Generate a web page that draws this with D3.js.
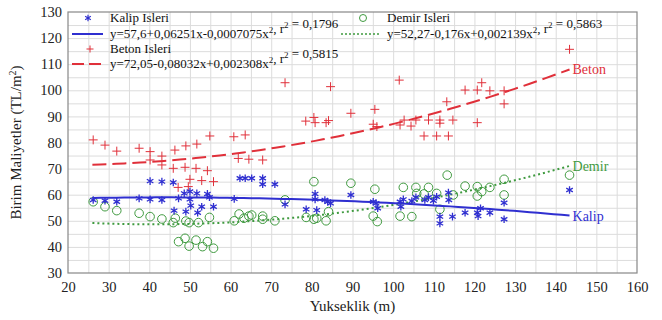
<!DOCTYPE html>
<html lang="tr">
<head>
<meta charset="utf-8">
<title>Birim Maliyetler</title>
<script src="https://d3js.org/d3.v7.min.js"></script>
<style type="text/css">
body { margin: 0; background: #fff; }
svg text { font-family: "Liberation Serif", "DejaVu Serif", serif !important; }
.grid line { stroke: #dcdcdc; stroke-width: 1; }
.grid path { display: none; }
.tick text { font-size: 14.5px; fill: #222; }
</style>
</head>
<body>
<div id="chart"></div>
<script type="text/javascript">
// Data
var kalipX = [26.2,29.1,32.0,37.5,40.2,40.2,43.1,43.1,45.9,46.1,47.2,48.6,49.0,50.0,50.0,50.2,51.7,51.9,52.9,54.3,54.8,55.8,60.9,62.3,63.6,65.2,67.9,67.9,70.9,73.4,78.6,80.8,80.8,81.2,83.2,83.9,84.6,89.6,95.1,95.8,96.2,101.7,101.9,102.5,104.6,105.6,107.8,108.7,109.9,110.7,111.5,111.5,113.6,113.7,114.6,117.7,120.7,120.9,121.5,123.8,127.3,127.3,143.4];
var kalipY = [58.0,57.7,57.3,58.6,65.2,58.2,65.0,58.0,64.7,53.9,58.6,60.5,53.5,61.2,58.2,55.8,60.5,53.1,55.4,60.3,59.0,55.4,58.4,66.3,66.3,66.3,66.3,64.0,64.0,56.3,54.4,60.3,58.2,54.1,58.0,57.3,56.7,59.9,57.3,56.7,54.8,57.3,55.4,58.2,57.6,59.0,58.0,59.0,57.7,59.2,51.6,49.0,60.8,58.0,51.6,53.1,53.1,51.8,54.8,53.1,56.9,50.6,61.8];

var betonX = [26.2,29.1,32.0,37.5,40.2,40.2,43.1,43.1,46.3,45.9,49.0,48.8,51.7,51.5,54.9,54.3,50.0,52.9,55.8,47.1,49.6,60.8,63.6,61.9,64.5,67.9,73.4,84.6,78.5,80.5,80.8,83.5,84.1,89.6,95.5,95.1,96.0,101.5,101.7,102.7,104.4,105.6,107.6,108.7,110.7,111.5,111.5,113.2,113.6,114.7,117.7,120.7,120.7,121.8,123.8,127.3,127.3,143.4];
var betonY = [81.0,79.0,76.7,77.8,76.5,73.3,74.8,71.4,77.1,70.1,78.7,70.5,79.4,70.1,82.5,69.2,65.9,65.4,65.0,62.8,63.1,82.2,82.9,73.9,73.6,73.3,102.9,101.4,88.2,89.6,87.6,87.6,88.4,91.2,92.7,87.0,86.1,103.9,86.7,88.6,86.3,88.6,82.5,88.6,82.5,88.6,87.4,95.6,82.5,88.6,100.1,100.1,87.6,102.9,99.8,99.8,94.8,115.7];

var demirX = [26.2,29.1,32.0,37.5,40.2,43.1,45.9,46.4,49.0,49.8,52.1,54.8,47.2,48.8,49.8,51.5,53.1,54.3,55.8,60.9,62.1,63.3,64.5,65.2,67.9,67.9,70.9,73.4,78.6,80.5,80.5,81.2,83.5,84.1,89.6,95.1,95.5,96.1,101.7,102.5,104.6,105.6,105.8,107.6,108.7,110.7,111.5,113.3,114.8,117.7,120.7,120.7,121.8,123.8,127.3,127.3,143.4];
var demirY = [57.3,55.4,53.9,52.9,51.6,50.7,49.3,51.0,49.9,49.3,49.3,51.3,42.0,43.3,40.3,42.6,40.1,42.0,39.5,50.0,52.6,51.0,51.8,52.2,51.8,50.6,50.0,58.0,51.3,65.0,50.6,51.0,50.0,53.5,64.4,51.8,62.1,49.7,51.8,62.8,51.6,62.8,60.5,60.3,62.8,60.5,54.4,67.5,59.9,63.3,63.1,59.5,61.2,62.8,65.9,59.9,67.5];

// regression coefficients (a + b x + c x^2) shown in the legend
var kalipFit = [57.6, 0.06251, -0.0007075];
var betonFit = [72.05, -0.08032, 0.002308];
var demirFit = [52.27, -0.176, 0.002139];
var fitRange = [26, 143.4];

var xTicks = [20,30,40,50,60,70,80,90,100,110,120,130,140,150,160];
var yTicks = [30,40,50,60,70,80,90,100,110,120,130];

var w = 662, h = 320;
var pLeft = 68, pRight = 637, pTop = 12, pBottom = 273;

var blue = "#2f2fd0", red = "#e0303a", green = "#3f9a3f";

var xScale = d3.scaleLinear().domain([20, 160]).range([pLeft, pRight]);
var yScale = d3.scaleLinear().domain([30, 130]).range([pBottom, pTop]);

var svg = d3.select("#chart").append("svg")
	.attr("width", w)
	.attr("height", h);

// grid every 5 units
svg.append("g")
	.attr("class", "grid")
	.attr("transform", "translate(0," + pBottom + ")")
	.call(d3.axisBottom(xScale).tickValues(d3.range(25, 160, 5)).tickSize(-(pBottom - pTop)).tickFormat(""));
svg.append("g")
	.attr("class", "grid")
	.attr("transform", "translate(" + pLeft + ",0)")
	.call(d3.axisLeft(yScale).tickValues(d3.range(35, 130, 5)).tickSize(-(pRight - pLeft)).tickFormat(""));

// frame
svg.append("rect")
	.attr("x", pLeft).attr("y", pTop)
	.attr("width", pRight - pLeft).attr("height", pBottom - pTop)
	.attr("fill", "none").attr("stroke", "#888").attr("stroke-width", 1.2);

// axes labels
var xAxis = svg.append("g")
	.attr("transform", "translate(0," + pBottom + ")")
	.call(d3.axisBottom(xScale).tickValues(xTicks).tickSize(0).tickPadding(9));
xAxis.select(".domain").remove();

var yAxis = svg.append("g")
	.attr("transform", "translate(" + pLeft + ",0)")
	.call(d3.axisLeft(yScale).tickValues(yTicks).tickSize(0).tickPadding(6));
yAxis.select(".domain").remove();

svg.append("text")
	.attr("x", (pLeft + pRight) / 2).attr("y", 311)
	.attr("text-anchor", "middle")
	.style("font-size", "15px")
	.attr("fill", "#222")
	.text("Yukseklik (m)");

var yt = svg.append("text")
	.attr("transform", "translate(21," + ((pTop + pBottom) / 2) + ") rotate(-90)")
	.attr("text-anchor", "middle")
	.style("font-size", "15px")
	.attr("fill", "#222");
yt.append("tspan").text("Birim Maliyetler (TL/m");
yt.append("tspan").attr("dy", -5).style("font-size", "10px").text("2");
yt.append("tspan").attr("dy", 5).text(")");

// fit curves
function fitPoints(c) {
	var pts = [];
	for (var i = 0; i <= 60; i++) {
		var xv = fitRange[0] + (fitRange[1] - fitRange[0]) * i / 60;
		pts.push([xv, c[0] + c[1] * xv + c[2] * xv * xv]);
	}
	return pts;
}
var line = d3.line().x(d => xScale(d[0])).y(d => yScale(d[1]));

svg.append("path").datum(fitPoints(betonFit)).attr("d", line)
	.attr("fill", "none").attr("stroke", red).attr("stroke-width", 2)
	.attr("stroke-dasharray", "14,6");
svg.append("path").datum(fitPoints(demirFit)).attr("d", line)
	.attr("fill", "none").attr("stroke", green).attr("stroke-width", 2)
	.attr("stroke-dasharray", "2,3");

// points
svg.append("g").selectAll("circle")
	.data(d3.zip(demirX, demirY))
	.enter().append("circle")
	.attr("cx", d => xScale(d[0])).attr("cy", d => yScale(d[1]))
	.attr("r", 4.3)
	.attr("fill", "none").attr("stroke", green).attr("stroke-width", 1);

svg.append("g").selectAll("path")
	.data(d3.zip(betonX, betonY))
	.enter().append("path")
	.attr("transform", d => "translate(" + xScale(d[0]) + "," + yScale(d[1]) + ")")
	.attr("d", d3.symbol(d3.symbolPlus, 28))
	.attr("fill", "none").attr("stroke", red).attr("stroke-width", 1);

svg.append("g").selectAll("path")
	.data(d3.zip(kalipX, kalipY))
	.enter().append("path")
	.attr("transform", d => "translate(" + xScale(d[0]) + "," + yScale(d[1]) + ")")
	.attr("d", d3.symbol(d3.symbolAsterisk, 40))
	.attr("fill", "none").attr("stroke", blue).attr("stroke-width", 1.3);

svg.append("path").datum(fitPoints(kalipFit)).attr("d", line)
	.attr("fill", "none").attr("stroke", blue).attr("stroke-width", 2);

// end labels
var endLabels = [["Beton", betonFit, red], ["Demir", demirFit, green], ["Kalip", kalipFit, blue]];
endLabels.forEach(function (e) {
	var xv = fitRange[1];
	var yv = e[1][0] + e[1][1] * xv + e[1][2] * xv * xv;
	svg.append("text")
		.attr("x", xScale(xv) + 3).attr("y", yScale(yv) + 5)
		.style("font-size", "14px")
		.attr("fill", e[2])
		.text(e[0]);
});

// legend
var legend = svg.append("g").style("font-size", "13px").attr("fill", "#111");
function eqText(g, x, y, parts) {
	var t = g.append("text").attr("x", x).attr("y", y);
	parts.forEach(function (p) {
		if (p[1]) {
			t.append("tspan").attr("dy", -5).style("font-size", "9px").text(p[0]);
			t.append("tspan").attr("dy", 5).text("");
		} else {
			t.append("tspan").text(p[0]);
		}
	});
}
var rows = [22, 38, 53, 68];

legend.append("path")
	.attr("transform", "translate(88," + (rows[0] - 4) + ")")
	.attr("d", d3.symbol(d3.symbolAsterisk, 30))
	.attr("fill", "none").attr("stroke", blue).attr("stroke-width", 1.2);
legend.append("text").attr("x", 110).attr("y", rows[0]).text("Kalip Isleri");
legend.append("line").attr("x1", 72).attr("x2", 103).attr("y1", rows[1] - 4).attr("y2", rows[1] - 4)
	.attr("stroke", blue).attr("stroke-width", 2);
eqText(legend, 110, rows[1], [["y=57,6+0,06251x-0,0007075x"], ["2", 1], [", r"], ["2", 1], [" = 0,1796"]]);

legend.append("path")
	.attr("transform", "translate(90," + (rows[2] - 4) + ")")
	.attr("d", d3.symbol(d3.symbolPlus, 18))
	.attr("fill", "none").attr("stroke", red).attr("stroke-width", 1);
legend.append("text").attr("x", 110).attr("y", rows[2]).text("Beton Isleri");
legend.append("line").attr("x1", 72).attr("x2", 103).attr("y1", rows[3] - 4).attr("y2", rows[3] - 4)
	.attr("stroke", red).attr("stroke-width", 2).attr("stroke-dasharray", "12,5");
eqText(legend, 110, rows[3], [["y=72,05-0,08032x+0,002308x"], ["2", 1], [", r"], ["2", 1], [" = 0,5815"]]);

legend.append("circle")
	.attr("cx", 363).attr("cy", rows[0] - 4).attr("r", 3.5)
	.attr("fill", "none").attr("stroke", green);
legend.append("text").attr("x", 387).attr("y", rows[0]).text("Demir Isleri");
legend.append("line").attr("x1", 341).attr("x2", 379).attr("y1", rows[1] - 4).attr("y2", rows[1] - 4)
	.attr("stroke", green).attr("stroke-width", 1.5).attr("stroke-dasharray", "2,2");
eqText(legend, 387, rows[1], [["y=52,27-0,176x+0,002139x"], ["2", 1], [", r"], ["2", 1], [" = 0,5863"]]);
</script>
</body>
</html>
